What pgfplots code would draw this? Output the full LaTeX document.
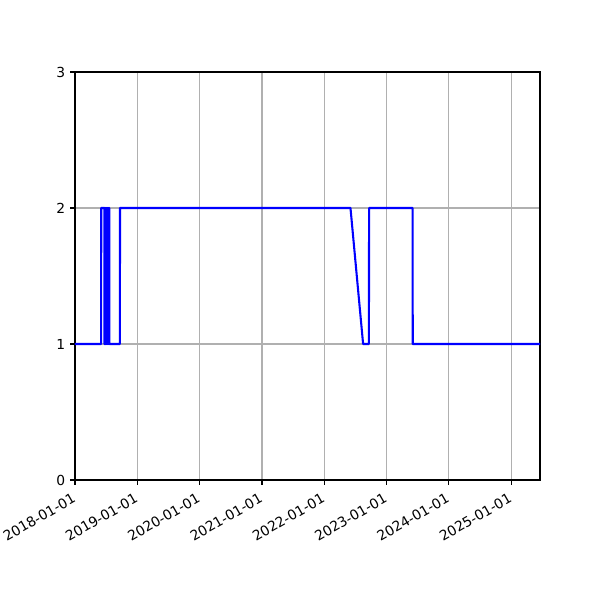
\documentclass[border=0pt]{standalone}
\usepackage{pgfplots}
\pgfplotsset{compat=1.18}
\usepackage{fontspec}
\setmainfont{DejaVu Sans}
\begin{document}
\begin{tikzpicture}
\path[use as bounding box] (-0.75in,-1.2in) rectangle (5.25in,4.8in);
\begin{axis}[
  at={(0,0)}, anchor=south west,
  width=4.65in, height=4.08in, scale only axis,
  xmin=0, xmax=2726, ymin=0, ymax=3,
  xtick={0,365,730,1096,1461,1826,2191,2557},
  xticklabels={2018-01-01,2019-01-01,2020-01-01,2021-01-01,2022-01-01,2023-01-01,2024-01-01,2025-01-01},
  ytick={0,1,2,3},
  xticklabel style={rotate=30, anchor=north east, xshift=-1.5pt, font=\fontsize{10}{12}\selectfont},
  yticklabel style={font=\fontsize{10}{12}\selectfont},
  /pgf/number format/assume math mode=true,
  grid=major,
  major grid style={color=black!31, line width=0.8pt},
  axis line style={line width=0.8pt},
  tick style={black, line width=0.8pt},
  tick align=outside, major tick length=3.5pt,
  xtick pos=bottom, ytick pos=left,
]
\addplot[blue, line width=1.5pt, line join=round] coordinates {
(0,1) (153,1) (154,2) (172,2) (173,1) (175,1) (176,2) (178,2) (179,1) (181,1)
(182,2) (184,2) (185,1) (187,1) (188,2) (190,2) (191,1) (193,1) (194,2) (196,2)
(197,1) (199,1) (200,2) (201,2) (202,1) (263,1) (264,2) (1615,2) (1689,1)
(1723,1) (1724,2) (1979,2) (1980,1) (2726,1)
};
\end{axis}
\end{tikzpicture}
\end{document}
